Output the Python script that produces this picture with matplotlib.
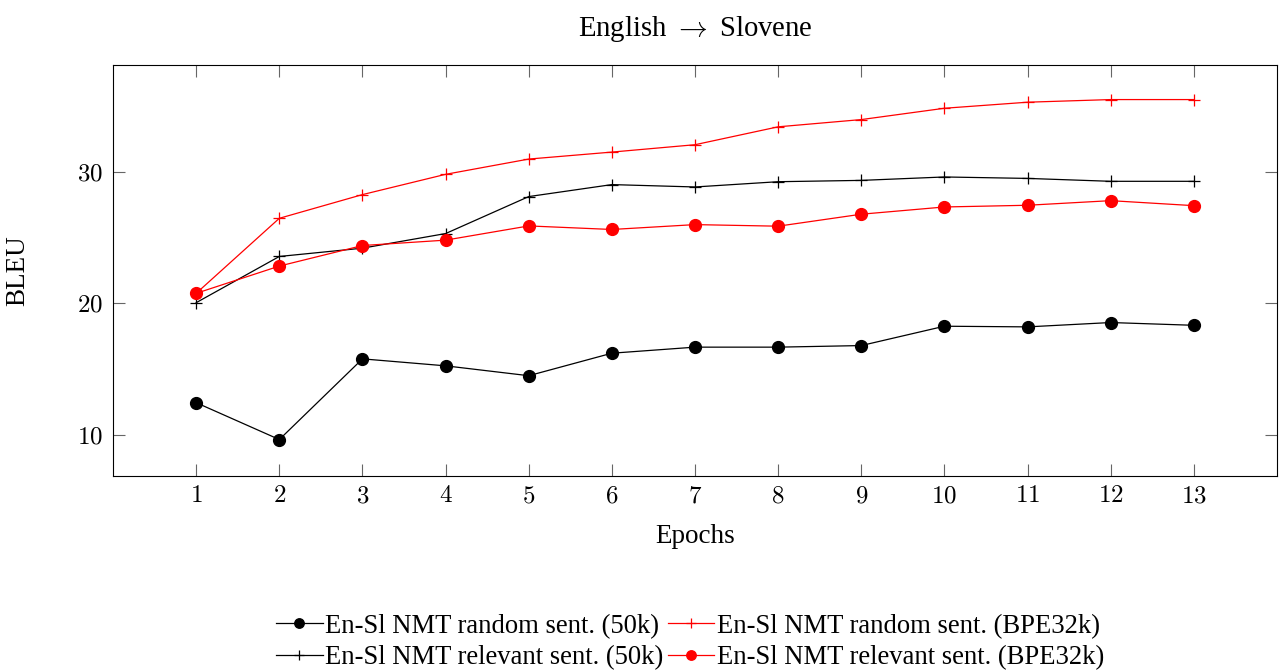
import matplotlib
matplotlib.use('Agg')
import matplotlib.pyplot as plt
from matplotlib.ticker import FuncFormatter

plt.rcParams['font.family'] = ['Liberation Serif', 'DejaVu Serif']
plt.rcParams['mathtext.fontset'] = 'cm'

epochs = [1, 2, 3, 4, 5, 6, 7, 8, 9, 10, 11, 12, 13]
random_50k = [12.45, 9.65, 15.78, 15.25, 14.5, 16.21, 16.67, 16.67, 16.79, 18.26, 18.21, 18.54, 18.33]
relevant_50k = [20.05, 23.56, 24.19, 25.3, 28.11, 29.02, 28.84, 29.24, 29.34, 29.6, 29.49, 29.27, 29.27]
random_bpe = [20.76, 26.46, 28.26, 29.8, 30.96, 31.49, 32.05, 33.41, 33.96, 34.82, 35.28, 35.48, 35.48]
relevant_bpe = [20.76, 22.83, 24.39, 24.8, 25.88, 25.61, 25.98, 25.86, 26.77, 27.32, 27.45, 27.8, 27.42]
y_ticks = [10, 20, 30]

fig = plt.figure(figsize=(12.79, 6.71), dpi=100)
ax = fig.add_axes([0.0884, 0.291, 0.9100, 0.612])

ax.plot(epochs, random_50k, color='black', marker='o', markersize=8.5, linewidth=0.9,
        label='En-Sl NMT random sent. (50k)')
ax.plot(epochs, relevant_50k, color='black', marker='+', markersize=9, markeredgewidth=0.9, linewidth=0.9,
        label='En-Sl NMT relevant sent. (50k)')
ax.plot(epochs, random_bpe, color='red', marker='+', markersize=9, markeredgewidth=0.9, linewidth=0.9,
        label='En-Sl NMT random sent. (BPE32k)')
ax.plot(epochs, relevant_bpe, color='red', marker='o', markersize=8.5, linewidth=0.9,
        label='En-Sl NMT relevant sent. (BPE32k)')

ax.set_xlim(0, 14)
ax.set_ylim(6.9, 38.1)
ax.set_xticks(epochs)
ax.set_yticks(y_ticks)
tick_fmt = FuncFormatter(lambda v, pos: '$%d$' % v)
ax.xaxis.set_major_formatter(tick_fmt)
ax.yaxis.set_major_formatter(tick_fmt)
ax.tick_params(direction='in', length=8.5, width=0.8, color='#666666', labelsize=18,
               top=True, right=True, pad=7)
for s in ax.spines.values():
    s.set_linewidth(0.8)

ax.set_title('English $\\rightarrow$ Slovene', fontsize=20.7, pad=21)
ax.set_xlabel('Epochs', fontsize=19.5, labelpad=12)
ax.set_ylabel('BLEU', fontsize=19.5)
ax.yaxis.set_label_coords(-0.0713, 0.5)

fig.legend(loc='center', bbox_to_anchor=(0.5395, 0.043), ncol=2, frameon=False, fontsize=19.2,
           handlelength=1.75, handletextpad=0.1, columnspacing=0.15, labelspacing=0.25,
           borderaxespad=0, markerscale=0.8)

fig.savefig('out.png', dpi=100)
